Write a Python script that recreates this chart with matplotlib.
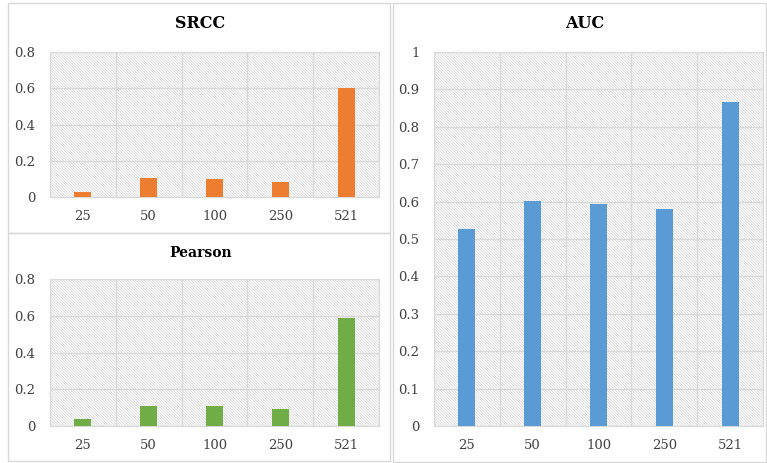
import matplotlib
matplotlib.use("Agg")
import matplotlib.pyplot as plt
from matplotlib.patches import Rectangle

# Werte pro Stichprobengröße
sizes = ["25", "50", "100", "250", "521"]
srcc = [0.026, 0.103, 0.097, 0.084, 0.603]
pearson = [0.040, 0.111, 0.111, 0.093, 0.588]
auc = [0.527, 0.601, 0.593, 0.581, 0.866]

GRID = "#d9d9d9"
W, H = 767, 463

plt.rcParams["font.family"] = ["DejaVu Serif"]
plt.rcParams["hatch.linewidth"] = 0.5


def px_axes(fig, x0, y0, x1, y1):
    # Pixelkoordinaten (oben links) in Figure-Koordinaten umrechnen
    return fig.add_axes([x0 / W, 1 - y1 / H, (x1 - x0) / W, (y1 - y0) / H])


def panel_box(fig, x0, y0, x1, y1):
    fig.patches.append(Rectangle((x0 / W, 1 - y1 / H), (x1 - x0) / W, (y1 - y0) / H,
                                 transform=fig.transFigure, fill=False,
                                 edgecolor=GRID, linewidth=1.0))


def px_title(fig, x, y, text, size):
    fig.text(x / W, 1 - y / H, text, ha="center", va="center",
             fontsize=size, fontweight="bold", color="black")


def bar_panel(ax, values, color, ymax, step):
    # schraffierter Hintergrund der Zeichenfläche
    ax.add_patch(Rectangle((0, 0), 1, 1, transform=ax.transAxes, facecolor="white",
                           edgecolor="#d4d4d4", linewidth=0, hatch="\\" * 12,
                           zorder=0))
    x = list(range(len(sizes)))
    ax.bar(x, values, width=0.26, color=color, zorder=3)
    ax.set_xlim(-0.5, len(sizes) - 0.5)
    ax.set_ylim(0, ymax)
    ticks = [round(i * step, 2) for i in range(int(round(ymax / step)) + 1)]
    ax.set_yticks(ticks)
    ax.set_yticklabels(["0" if t == 0 else ("1" if t == 1 else f"{t:g}") for t in ticks])
    ax.set_xticks(x)
    ax.set_xticklabels(sizes)
    for b in range(len(sizes) + 1):
        ax.axvline(b - 0.5, color=GRID, linewidth=1.0, zorder=1)
    ax.grid(axis="y", color=GRID, linewidth=1.0, zorder=1)
    ax.set_axisbelow(True)
    for s in ax.spines.values():
        s.set_color(GRID)
    ax.tick_params(length=0, labelsize=9.5, colors="#404040", pad=9.5)
    ax.tick_params(axis="y", pad=10.5)


fig = plt.figure(figsize=(W / 100, H / 100), dpi=100)

panel_box(fig, 8, 3, 390, 233)
panel_box(fig, 8, 233, 390, 461)
panel_box(fig, 393, 3, 766, 462)

ax1 = px_axes(fig, 50, 52, 379, 197)
bar_panel(ax1, srcc, "#ED7D31", 0.8, 0.2)
px_title(fig, 200, 23, "SRCC", 11.5)

ax2 = px_axes(fig, 50, 279, 379, 426)
bar_panel(ax2, pearson, "#70AD47", 0.8, 0.2)
px_title(fig, 201, 253, "Pearson", 10)

ax3 = px_axes(fig, 434, 52, 763, 426)
bar_panel(ax3, auc, "#5B9BD5", 1.0, 0.1)
px_title(fig, 585, 23, "AUC", 11.5)

fig.savefig("out.png", dpi=100)
